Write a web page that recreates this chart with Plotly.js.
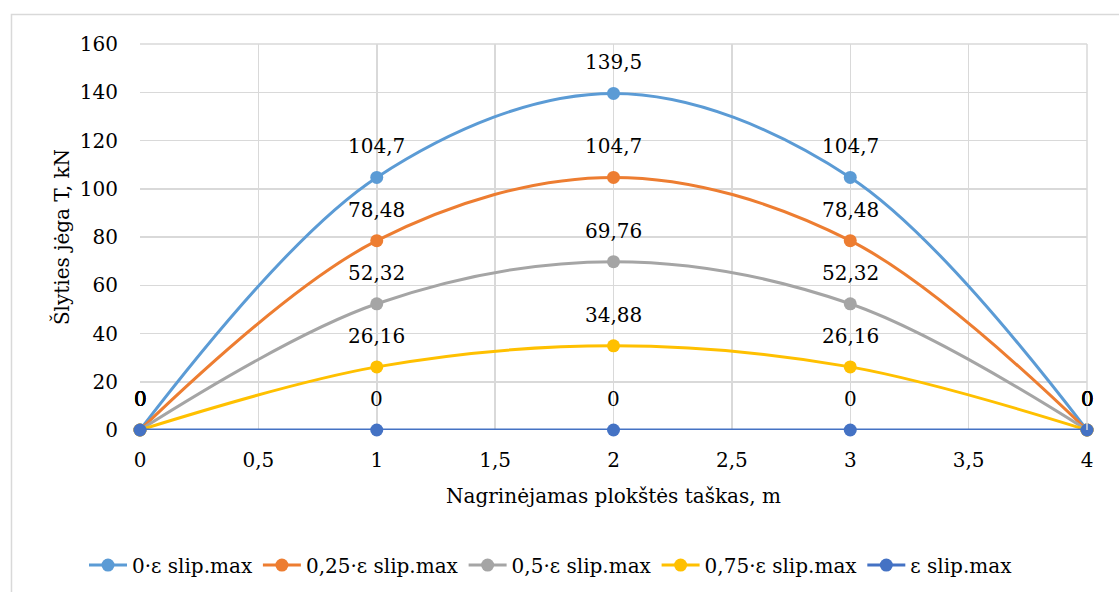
<!DOCTYPE html>
<html>
<head>
<meta charset="utf-8">
<script src="https://cdn.plot.ly/plotly-3.0.1.min.js"></script>
<style>html,body{margin:0;padding:0;background:#fff;overflow:hidden;}#chart{width:1119px;height:592px;}</style>
</head>
<body>
<div id="chart"></div>
<script>
const xPoints = [0, 1, 2, 3, 4];
const seriesNames = ["0·ε slip.max", "0,25·ε slip.max", "0,5·ε slip.max", "0,75·ε slip.max", "ε slip.max"];
const s0 = [0, 104.7, 139.5, 104.7, 0];
const s025 = [0, 78.48, 104.7, 78.48, 0];
const s05 = [0, 52.32, 69.76, 52.32, 0];
const s075 = [0, 26.16, 34.88, 26.16, 0];
const s1 = [0, 0, 0, 0, 0];
const xTickVals = [0, 0.5, 1, 1.5, 2, 2.5, 3, 3.5, 4];
const xTickText = ["0", "0,5", "1", "1,5", "2", "2,5", "3", "3,5", "4"];
const colors = ["#5B9BD5", "#ED7D31", "#A5A5A5", "#FFC000", "#4472C4"];

const fmt = v => String(v).replace('.', ',');
const allSeries = [s0, s025, s05, s075, s1];
const FONT = 'DejaVu Serif';
const FS = 20;

const traces = allSeries.map((ys, i) => ({
  x: xPoints, y: ys, name: seriesNames[i],
  type: 'scatter', mode: 'lines+markers',
  line: {color: colors[i], width: 3, shape: 'spline', smoothing: 1},
  marker: {color: colors[i], size: 13},
  hoverinfo: 'skip', cliponaxis: false
}));

const annotations = [];
allSeries.forEach(ys => {
  ys.forEach((v, j) => {
    annotations.push({x: xPoints[j], y: v, text: fmt(v), showarrow: false,
      xanchor: 'center', yanchor: 'middle', yshift: 31,
      font: {family: FONT, size: FS, color: '#000'}});
  });
});

const layout = {
  width: 1119, height: 592,
  margin: {l: 140, r: 32, t: 44, b: 162, autoexpand: false},
  paper_bgcolor: '#fff', plot_bgcolor: '#fff',
  font: {family: FONT, size: FS, color: '#000'},
  showlegend: true,
  legend: {orientation: 'h', x: 0.434, xanchor: 'center', y: -0.35, yanchor: 'middle',
           itemwidth: 38, font: {family: FONT, size: FS, color: '#000'}, itemclick: false},
  xaxis: {range: [0, 4], tickvals: xTickVals, ticktext: xTickText,
          showgrid: true, gridcolor: '#d9d9d9', gridwidth: 1.5, zeroline: false, showline: false,
          ticks: '', ticklabelstandoff: 16, automargin: false,
          tickfont: {family: FONT, size: FS},
          title: {text: 'Nagrinėjamas plokštės taškas, m', font: {family: FONT, size: FS}, standoff: 17}},
  yaxis: {range: [0, 160], dtick: 20, tick0: 0,
          showgrid: true, gridcolor: '#d9d9d9', gridwidth: 1.5, zeroline: false, showline: false,
          ticks: '', ticklabelstandoff: 21, automargin: false,
          tickfont: {family: FONT, size: FS},
          title: {text: 'Šlyties jėga T, kN', font: {family: FONT, size: FS}, standoff: 4}},
  annotations: annotations,
  shapes: [
    {type: 'line', xref: 'paper', yref: 'paper', x0: 1, x1: 1, y0: 0, y1: 1, line: {color: '#d9d9d9', width: 1.5}},
    {type: 'line', xref: 'paper', yref: 'paper', x0: 0, x1: 1, y0: 1, y1: 1, line: {color: '#d9d9d9', width: 1.5}},
    {type: 'rect', xref: 'paper', yref: 'paper', x0: -0.1357, x1: 1.2, y0: -0.6, y1: 1.0764, line: {color: '#d9d9d9', width: 1.5}, fillcolor: 'rgba(0,0,0,0)', layer: 'below'}
  ]
};

Plotly.newPlot('chart', traces, layout, {displayModeBar: false, staticPlot: true});
</script>
</body>
</html>
